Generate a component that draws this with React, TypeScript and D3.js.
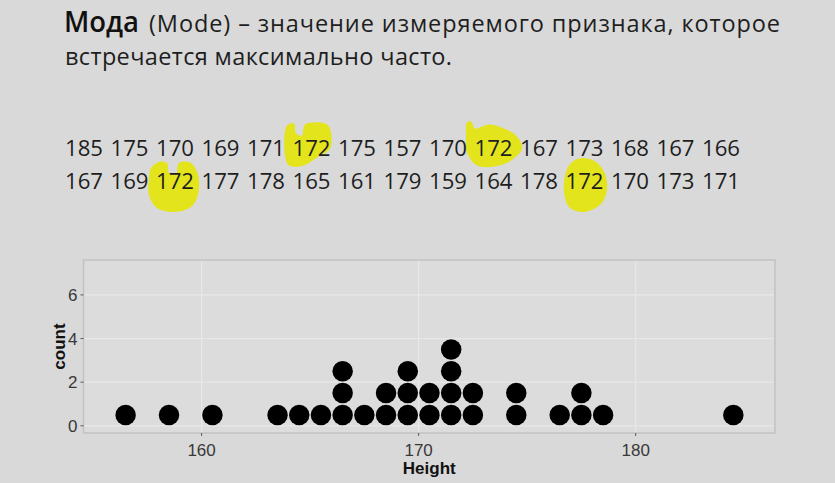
import React from "react";
import * as d3 from "d3";

// ---------- data ----------
const titleBold = "Мода";
const titleRest = "(Mode) – значение измеряемого признака, которое";
const titleLine2 = "встречается максимально часто.";

const row1 = [185, 175, 170, 169, 171, 172, 175, 157, 170, 172, 167, 173, 168, 167, 166];
const row2 = [167, 169, 172, 177, 178, 165, 161, 179, 159, 164, 178, 172, 170, 173, 171];

const xTicks = [160, 170, 180];
const yTicks = [0, 2, 4, 6];
const xLabel = "Height";
const yLabel = "count";
const binwidth = 1;

// hand-drawn highlighter blobs (offsets relative to number's left/baseline), in order of occurrence
const blobShapes: [number, number][][] = [
  [[-5.5, -30], [1.5, -32], [3.5, -22], [9.5, -20], [12.5, -31], [32.5, -32], [37.5, -27], [37.5, -7], [24.5, 2], [11.5, 10], [-3.5, 10], [-7.5, 0]],
  [[-7.5, -33], [-3.5, -34], [0.5, -27], [14.5, -31], [29.5, -27], [42.5, -19], [47.5, -7], [36.5, 5], [19.5, 11], [2.5, 10], [-7.5, -3], [-8.5, -20]],
  [[-5, -21], [3, -27], [11, -26], [13, -16], [20, -15], [23, -26], [35, -26], [42, -14], [42, 6], [35, 18], [18, 23], [1, 19], [-7, 6], [-7, -11]],
  [[16.5, -31], [30.5, -27], [39.5, -15], [41.5, 1], [35.5, 15], [18.5, 23], [4.5, 19], [-1.5, 3], [0.5, -17], [6.5, -27]],
];

const W = 835;
const H = 483;

export default function App() {
  const heights = [...row1, ...row2];
  const counts = d3.rollups(heights, (v) => v.length, (d) => d).sort((a, b) => a[0] - b[0]);
  const modeVal = counts.reduce((m, c) => (c[1] > m[1] ? c : m), counts[0])[0];

  // number layout
  const numX = d3.scaleLinear().domain([0, 14]).range([65, 65 + 14 * 45.5]);
  const rowBase = [155.5, 189];
  const rows = [row1, row2];

  const occurrences: { x: number; b: number }[] = [];
  rows.forEach((r, ri) =>
    r.forEach((v, i) => {
      if (v === modeVal) occurrences.push({ x: numX(i), b: rowBase[ri] });
    })
  );
  const blobLine = d3.line().curve(d3.curveCatmullRomClosed.alpha(0.5));

  // chart scales
  const pL = 83.5, pR = 775, pT = 260, pB = 433;
  const x = d3.scaleLinear().domain([154.56, 186.42]).range([pL, pR]);
  const y = d3.scaleLinear().domain([-0.33, 7.6]).range([pB, pT]);

  const dots: { cx: number; cy: number; key: string }[] = [];
  counts.forEach(([v, c]) => {
    for (let k = 0; k < c; k++) {
      dots.push({ cx: x(v - binwidth / 2), cy: y(k + 0.5), key: `${v}-${k}` });
    }
  });
  const r = (x(1) - x(0)) / 2 - 0.6;

  const slideFont = "'Open Sans', sans-serif";
  const chartFont = "'Liberation Sans', Arial, sans-serif";

  return (
    <svg width={W} height={H} style={{ position: "absolute", left: 0, top: 0 }}>
      <rect x={0} y={0} width={W} height={H} fill="#d9d9d9" />

      {/* title */}
      <text x={64} y={32} fontFamily={slideFont} fontSize={28} fontWeight={600} fill="#111" textLength={75} lengthAdjust="spacingAndGlyphs">
        {titleBold}
      </text>
      <text x={149} y={32} fontFamily={slideFont} fontSize={23.5} fill="#1e1e1e" textLength={631} lengthAdjust="spacing">
        {titleRest}
      </text>
      <text x={65} y={65} fontFamily={slideFont} fontSize={23.5} fill="#1e1e1e" textLength={387} lengthAdjust="spacing">
        {titleLine2}
      </text>

      {/* highlights */}
      {occurrences.map((o, i) => (
        <path
          key={i}
          d={blobLine(blobShapes[i % blobShapes.length].map(([dx, dy]) => [o.x + dx, o.b + dy]) as [number, number][]) || ""}
          fill="#e4e41c"
        />
      ))}

      {/* numbers */}
      {rows.map((rw, ri) =>
        rw.map((v, i) => (
          <text key={`${ri}-${i}`} x={numX(i)} y={rowBase[ri]} fontFamily={slideFont} fontSize={22} fill="#1e1e1e" textLength={38} lengthAdjust="spacingAndGlyphs">
            {v}
          </text>
        ))
      )}

      {/* chart panel */}
      <rect x={pL} y={pT} width={pR - pL} height={pB - pT} fill="#dcdcdc" />
      {yTicks.map((t) => (
        <line key={`gy${t}`} x1={pL} x2={pR} y1={y(t)} y2={y(t)} stroke="#e8e8e8" strokeWidth={1.2} />
      ))}
      {xTicks.map((t) => (
        <line key={`gx${t}`} x1={x(t)} x2={x(t)} y1={pT} y2={pB} stroke="#e8e8e8" strokeWidth={1.2} />
      ))}
      {dots.map((d) => (
        <circle key={d.key} cx={d.cx} cy={d.cy} r={r} fill="#000" />
      ))}
      <rect x={pL} y={pT} width={pR - pL} height={pB - pT} fill="none" stroke="#c2c2c2" strokeWidth={1.5} />

      {/* y axis */}
      {yTicks.map((t) => (
        <g key={`ty${t}`}>
          <line x1={pL - 3} x2={pL} y1={y(t)} y2={y(t)} stroke="#5a5a5a" strokeWidth={1} />
          <text x={pL - 6} y={y(t)} dy="0.36em" textAnchor="end" fontFamily={chartFont} fontSize={17} fill="#383838">
            {t}
          </text>
        </g>
      ))}
      {/* x axis */}
      {xTicks.map((t) => (
        <g key={`tx${t}`}>
          <line x1={x(t)} x2={x(t)} y1={pB} y2={pB + 3} stroke="#5a5a5a" strokeWidth={1} />
          <text x={x(t)} y={455.5} textAnchor="middle" fontFamily={chartFont} fontSize={17} fill="#383838">
            {t}
          </text>
        </g>
      ))}
      <text x={(pL + pR) / 2} y={474} textAnchor="middle" fontFamily={chartFont} fontSize={17} fontWeight={700} fill="#111">
        {xLabel}
      </text>
      <text
        transform={`translate(64.5, ${(pT + pB) / 2}) rotate(-90)`}
        textAnchor="middle"
        fontFamily={chartFont}
        fontSize={17}
        fontWeight={700}
        fill="#111"
      >
        {yLabel}
      </text>
    </svg>
  );
}
